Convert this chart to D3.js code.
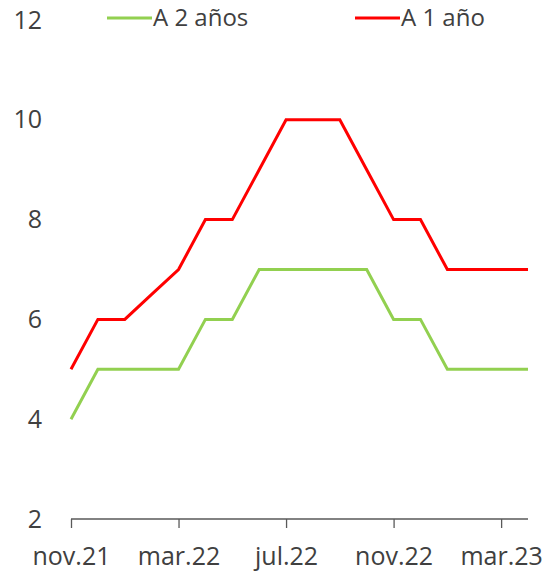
<!DOCTYPE html>
<meta charset="utf-8">
<script src="https://d3js.org/d3.v7.min.js"></script>
<style>
  body { margin: 0; background: #fff; }
  text { font-family: "Open Sans", sans-serif; fill: #404040; }
</style>
<svg id="chart" width="551" height="575"></svg>
<script>
// months, nov.21 .. apr.23
var months = ["nov.21","dic.21","ene.22","feb.22","mar.22","abr.22","may.22","jun.22","jul.22",
              "ago.22","sep.22","oct.22","nov.22","dic.22","ene.23","feb.23","mar.23","abr.23"];
var tickLabels = ["nov.21","mar.22","jul.22","nov.22","mar.23"];
var yTicks = [2, 4, 6, 8, 10, 12];

var unAnio  = [5, 6, 6, 6.5, 7, 8, 8, 9, 10, 10, 10, 9, 8, 8, 7, 7, 7, 7];
var dosAnios = [4, 5, 5, 5, 5, 6, 6, 7, 7, 7, 7, 7, 6, 6, 5, 5, 5, 5];

var series = [
  { name: "A 2 años", values: dosAnios, color: "#92D050" },
  { name: "A 1 año",  values: unAnio,   color: "#FF0000" }
];

var svg = d3.select("#chart");

var x = d3.scalePoint().domain(months).range([71, 528]);
var y = d3.scaleLinear().domain([2, 12]).range([519, 20]);

// x axis
var xAxis = svg.append("g")
    .attr("transform", "translate(0,519)")
    .call(d3.axisBottom(x).tickValues(tickLabels).tickSize(9).tickPadding(19).tickSizeOuter(0));
xAxis.select(".domain").attr("stroke", "#595959").attr("stroke-width", 1.3)
    .attr("d", "M" + x(months[0]) + ",0H" + x(months[months.length - 1]));
xAxis.selectAll(".tick line").attr("stroke", "#595959").attr("stroke-width", 1.3);
xAxis.selectAll("text").style("font-size", "25px").attr("fill", "#404040");

// y labels only
var yAxis = svg.append("g")
    .attr("transform", "translate(42,0)")
    .call(d3.axisLeft(y).tickValues(yTicks).tickSize(0).tickPadding(0));
yAxis.select(".domain").remove();
yAxis.selectAll("text").style("font-size", "25px").attr("fill", "#404040");

// lines
var line = d3.line()
    .x(function(d, i){ return x(months[i]); })
    .y(function(d){ return y(d); });

svg.selectAll(".serie")
  .data(series)
  .enter().append("path")
    .attr("class", "serie")
    .attr("d", function(d){ return line(d.values); })
    .attr("fill", "none")
    .attr("stroke", function(d){ return d.color; })
    .attr("stroke-width", 3)
    .attr("stroke-linejoin", "miter");

// legend
var legendX = [107, 355];
var legend = svg.selectAll(".legend")
  .data(series)
  .enter().append("g")
    .attr("class", "legend")
    .attr("transform", function(d, i){ return "translate(" + legendX[i] + ",18)"; });
legend.append("line")
    .attr("x1", 0).attr("x2", 45)
    .attr("stroke", function(d){ return d.color; })
    .attr("stroke-width", 3);
legend.append("text")
    .attr("x", 46).attr("dy", "0.35em")
    .style("font-size", "24px")
    .text(function(d){ return d.name; });
</script>
